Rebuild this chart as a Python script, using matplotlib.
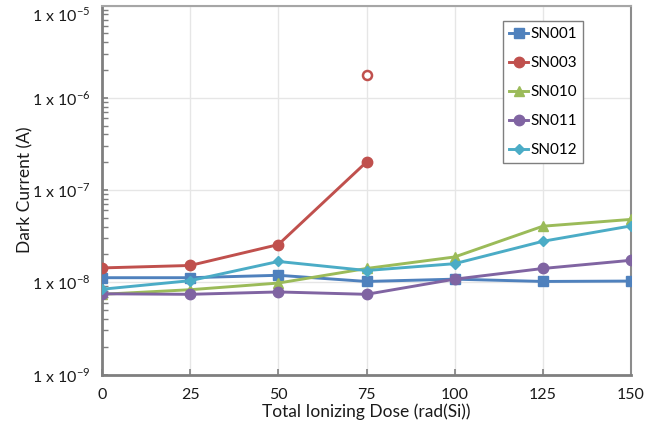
import matplotlib
matplotlib.use("Agg")
import matplotlib.pyplot as plt
import matplotlib.transforms as mtransforms
from matplotlib.ticker import LogLocator, FixedLocator, FixedFormatter, NullFormatter

plt.rcParams['font.family'] = ['Lato', 'DejaVu Sans']
plt.rcParams['mathtext.fontset'] = 'custom'
plt.rcParams['mathtext.rm'] = 'Lato'

dose = [0, 25, 50, 75, 100, 125, 150]
sn001 = [1.12e-8, 1.12e-8, 1.19e-8, 1.02e-8, 1.08e-8, 1.02e-8, 1.03e-8]
sn003 = [1.43e-8, 1.52e-8, 2.56e-8, 2.01e-7]
sn003_open_x = [75]
sn003_open_y = [1.76e-6]
sn010 = [7.4e-9, 8.3e-9, 9.8e-9, 1.41e-8, 1.88e-8, 4.05e-8, 4.8e-8]
sn011 = [7.5e-9, 7.4e-9, 7.85e-9, 7.4e-9, 1.08e-8, 1.41e-8, 1.73e-8]
sn012 = [8.4e-9, 1.04e-8, 1.68e-8, 1.34e-8, 1.59e-8, 2.78e-8, 4.08e-8]
labels = ['SN001', 'SN003', 'SN010', 'SN011', 'SN012']
colors = ['#4F81BD', '#C0504D', '#9BBB59', '#8064A2', '#4BACC6']
ytick_vals = [1e-9, 1e-8, 1e-7, 1e-6, 1e-5]
ytick_labels = [r'1 x 10$^{-9}$', r'1 x 10$^{-8}$', r'1 x 10$^{-7}$', r'1 x 10$^{-6}$', r'1 x 10$^{-5}$']
xticks = [0, 25, 50, 75, 100, 125, 150]

fig = plt.figure(figsize=(6.45, 4.42), dpi=100)
ax = fig.add_axes([102/645, (442-374.5)/442, (631-102)/645, (374.5-5.5)/442])

lw = 2.1
ax.plot(dose, sn001, color=colors[0], marker='s', ms=7, lw=lw, label=labels[0], zorder=3)
ax.plot(dose[:len(sn003)], sn003, color=colors[1], marker='o', ms=7.5, lw=lw, label=labels[1], zorder=3)
ax.plot(dose, sn010, color=colors[2], marker='^', ms=7.5, lw=lw, label=labels[2], zorder=3)
ax.plot(dose, sn011, color=colors[3], marker='o', ms=7.5, lw=lw, label=labels[3], zorder=3)
ax.plot(dose, sn012, color=colors[4], marker='D', ms=5.5, lw=lw, label=labels[4], zorder=3)
ax.plot(sn003_open_x, sn003_open_y, ls='none', marker='o', ms=6.5, mfc='white',
        mec=colors[1], mew=1.8, zorder=3)

ax.set_yscale('log')
ax.set_ylim(1e-9, 1e-5)
ax.set_xlim(0, 150)
ax.yaxis.set_major_locator(FixedLocator(ytick_vals))
ax.yaxis.set_major_formatter(FixedFormatter(ytick_labels))
ax.yaxis.set_minor_locator(LogLocator(base=10, subs=range(2, 10)))
ax.yaxis.set_minor_formatter(NullFormatter())
ax.set_xticks(xticks)
ax.set_xticklabels([str(v) for v in xticks])

ax.grid(True, which='major', color='#E6E6E6', lw=1.0, zorder=0)
ax.set_axisbelow(True)
ax.tick_params(axis='both', which='major', direction='in', length=4, width=1.2,
               color='#7F7F7F', labelsize=11.5, labelcolor='#1a1a1a')
ax.tick_params(axis='y', which='major', pad=8)
ax.tick_params(axis='x', which='major', pad=10)
ax.tick_params(axis='y', which='minor', direction='in', length=4, width=1.0, color='#7F7F7F')

for side in ['left', 'bottom']:
    ax.spines[side].set_color('#7F7F7F')
    ax.spines[side].set_linewidth(2.0)
ax.spines['right'].set_color('#8C8C8C')
ax.spines['right'].set_linewidth(1.5)
ax.spines['top'].set_color('#A6A6A6')
ax.spines['top'].set_linewidth(1.5)

ax.set_xlabel('Total Ionizing Dose (rad(Si))', fontsize=12.5, color='#1a1a1a', labelpad=1)
ax.set_ylabel('Dark Current (A)', fontsize=12.5, color='#1a1a1a', labelpad=-1)

# shift the top tick label down so it stays inside the figure
fig.canvas.draw()
top_lab = ax.get_yticklabels()[-1]
top_lab.set_transform(top_lab.get_transform() +
                      mtransforms.ScaledTranslation(0, -8/100, fig.dpi_scale_trans))

leg = ax.legend(loc='upper left', bbox_to_anchor=(0.758, 0.958), fontsize=11,
                frameon=True, fancybox=False, edgecolor='#7F7F7F', framealpha=1,
                handlelength=1.25, handletextpad=0.15, labelspacing=0.98,
                borderpad=0.4, borderaxespad=0)
leg.get_frame().set_linewidth(1.0)

fig.savefig('out.png', dpi=100)
